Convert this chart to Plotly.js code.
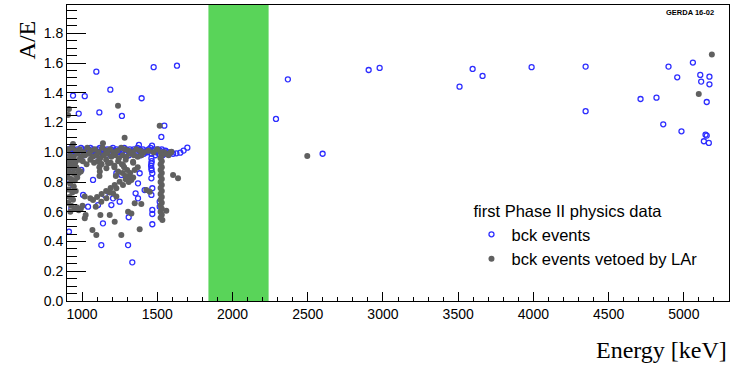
<!DOCTYPE html>
<html>
<head>
<meta charset="utf-8">
<script src="https://cdn.plot.ly/plotly-3.0.1.min.js"></script>
<style>html,body{margin:0;padding:0;background:#fff;}#plot{width:733px;height:367px;}</style>
</head>
<body>
<div id="plot"></div>
<script>
// bck events (open blue circles): energy [keV] and A/E
const bckEnergy = [
  // outliers, low-energy region
  1095,1476,1631,940,1018,1188,1396,978,1115,1265,1547,1527,1378,1465,1700,1675,1653,1627,
  // high-energy region
  2289,2368,2599,2905,2978,3509,3596,3662,3988,4347,4347,4712,4818,4863,4898,4956,4984,5060,5109,5115,5133,5144,5152,5152,5166,5170,5170,
  // below the band
  995,1073,913,940,929,913,1007,1040,1139,1128,1306,1334,1310,1250,1206,1151,1195,1106,1372,1372,1383,1261,1228,
  1461,1461,1467,1461,1467,1461,1467,1467,1467,1516,1516,1416,1356,910,915,908,920,1461,1463,1459,1462,
  // band near 1.0, row A
  905,918,930,943,955,968,980,993,1005,1018,1030,1043,1055,1068,1080,1093,1105,1118,1130,1143,1155,1168,1180,1193,
  1205,1218,1230,1243,1255,1268,1280,1293,1305,1318,1330,1343,1355,1368,1380,1393,1405,1418,1430,1443,1455,1468,
  1480,1493,1505,1518,1530,1543,1555,1568,1580,1593,1605,
  // band near 1.0, row B
  912,937,962,987,1012,1037,1062,1087,1112,1137,1162,1187,1212,1237,1262,1287,1312,1337,1362,1387,1412,1437,1462,1487,1512,1537,1562
];
const bckAE = [
  1.542,1.572,1.582,1.381,1.377,1.421,1.363,1.26,1.268,1.244,1.179,1.103,1.049,1.044,1.031,1.011,0.997,0.993,
  1.224,1.49,0.99,1.553,1.567,1.441,1.56,1.513,1.572,1.576,1.276,1.358,1.367,1.188,1.576,1.504,1.141,1.603,1.52,1.475,1.074,1.118,1.112,1.338,1.063,1.508,1.457,
  0.881,0.814,0.814,0.758,0.623,0.466,0.713,0.634,0.522,0.376,0.376,0.26,0.563,0.668,0.69,0.713,0.645,0.645,0.69,0.791,0.859,0.847,0.859,
  0.926,0.892,0.859,0.825,0.758,0.713,0.612,0.585,0.516,0.634,0.668,0.746,0.724,0.97,0.93,0.90,0.87,0.96,0.94,0.91,0.88,
  1.02,1.01,1.03,1.02,1.00,1.02,1.01,1.03,1.02,1.00,1.02,1.01,1.03,1.02,1.00,1.01,1.02,1.03,1.01,1.02,1.00,1.02,1.01,1.02,
  1.03,1.01,1.02,1.00,1.02,1.01,1.03,1.02,1.01,1.02,1.00,1.02,1.01,1.03,1.02,1.01,1.02,1.00,1.01,1.02,1.03,1.01,
  1.02,1.00,1.02,1.01,1.02,1.00,1.01,1.00,0.99,1.00,0.99,
  0.99,0.98,1.00,0.99,0.98,1.00,0.99,0.98,1.00,0.99,0.98,1.00,0.99,0.98,1.00,0.99,0.98,0.99,1.00,0.98,0.99,1.00,0.99,0.98,0.99,0.98,0.99
];

// bck events vetoed by LAr (filled grey circles)
const vetoEnergy = [
  // outliers
  913,907,1239,1516,1283,940,1139,2497,5186,5099,
  // band row 1
  910,935,960,985,1010,1035,1060,1085,1110,1135,1160,1185,1210,1235,1260,1285,1310,1335,1360,1385,1410,
  // band row 2
  920,945,970,995,1020,1045,1070,1095,1120,1145,1170,1195,1220,1245,1270,1295,1320,1345,1370,1395,
  // band row 3
  910,930,955,980,1005,1030,1055,1080,1105,1130,1160,1190,1215,1240,1265,1290,1340,
  // near 1.0 at higher energy
  1440,1475,1500,1545,1560,1590,1575,1594,
  // column near 1527 keV
  1522,1530,1522,1530,1522,1530,1522,1530,1522,1530,1522,1530,1522,1530,1522,1530,1522,1530,1522,1530,1522,1530,1522,
  // column near 1117 keV
  1117,1119,1115,1118,1116,
  // left cluster
  905,918,932,948,962,975,912,940,958,978,992,908,928,952,968,920,945,910,935,958,915,940,908,928,950,965,978,992,1003,922,
  // scattered
  1018,1024,1069,1095,1261,1383,1306,1328,1217,1122,1073,1055,1091,1018,1162,1184,1206,1228,1217,1290,1317,1328,
  1350,1394,1427,1450,1605,1638,1560,1534,1173,1162,1272,1339,1250,1272,1228,1128,1184,
  1100,1130,1160,1190,1280,1300,1320,1290,1340,1310,1350,1270,1215,1240,1225,1370
];
const vetoAE = [
  1.291,1.251,1.313,1.179,1.098,1.056,1.06,0.975,1.657,1.392,
  1.02,1.03,1.01,1.02,1.00,1.03,1.01,1.02,1.00,1.03,1.01,1.02,1.00,1.01,1.03,1.02,1.01,1.00,1.02,1.01,1.00,
  0.98,0.97,0.99,0.97,0.98,0.99,0.97,0.98,0.96,0.98,0.99,0.97,0.98,0.96,0.98,0.97,0.99,0.98,0.97,0.98,
  0.95,0.94,0.93,0.95,0.94,0.92,0.95,0.93,0.94,0.92,0.95,0.93,0.91,0.94,0.92,0.95,0.93,
  1.01,1.00,1.02,1.00,0.99,1.00,0.98,1.004,
  1.00,0.98,0.96,0.94,0.92,0.90,0.88,0.86,0.84,0.82,0.80,0.78,0.76,0.74,0.72,0.70,0.68,0.66,0.64,0.62,0.60,0.58,0.56,
  0.96,0.93,0.90,0.87,0.84,
  0.92,0.90,0.91,0.89,0.90,0.88,0.87,0.86,0.85,0.86,0.87,0.83,0.82,0.81,0.83,0.79,0.77,0.75,0.73,0.74,0.70,0.68,0.66,0.64,0.62,0.63,0.61,0.62,0.64,0.60,
  0.556,0.578,0.477,0.444,0.444,0.482,0.60,0.589,0.533,0.578,0.679,0.69,0.634,0.702,0.69,0.729,0.724,0.758,0.78,0.818,0.836,0.814,
  0.657,0.652,0.746,0.735,0.847,0.825,0.607,0.545,0.926,0.892,0.915,0.937,0.802,0.78,0.702,0.668,0.578,
  0.70,0.72,0.74,0.76,0.90,0.88,0.86,0.84,0.83,0.80,0.88,0.86,0.90,0.87,0.84,0.90
];

// Q_bb window [keV]
const blindLow = 1840, blindHigh = 2240;

const traces = [
  {
    x: bckEnergy, y: bckAE, type: 'scatter', mode: 'markers',
    name: 'bck events',
    marker: {symbol: 'circle-open', size: 5, color: 'rgb(45,45,255)', line: {width: 1.3, color: 'rgb(45,45,255)'}}
  },
  {
    x: vetoEnergy, y: vetoAE, type: 'scatter', mode: 'markers',
    name: 'bck events vetoed by LAr',
    marker: {symbol: 'circle', size: 6, color: 'rgb(96,96,96)'}
  }
];

const layout = {
  width: 733, height: 367,
  margin: {l: 67, r: 4, t: 5, b: 66},
  paper_bgcolor: '#fff', plot_bgcolor: '#fff',
  font: {family: 'Liberation Sans, Arial, sans-serif', size: 14, color: '#000'},
  showlegend: true,
  legend: {
    x: 0.611, y: 0.356, xanchor: 'left', yanchor: 'top',
    bgcolor: 'rgba(0,0,0,0)',
    title: {text: 'first Phase II physics data', font: {size: 16.5}},
    font: {size: 16.5}
  },
  xaxis: {
    range: [900, 5300], dtick: 500, tick0: 1000,
    ticks: 'inside', ticklen: 9, tickcolor: '#000', tickwidth: 1,
    minor: {dtick: 100, tick0: 1000, ticks: 'inside', ticklen: 4.5, tickcolor: '#000', tickwidth: 1},
    showgrid: false, zeroline: false, showline: true, linecolor: '#000', linewidth: 1, mirror: true,
    tickfont: {size: 14}
  },
  yaxis: {
    range: [0, 1.99], dtick: 0.2, tick0: 0, tickformat: '.1f',
    ticks: 'inside', ticklen: 19, tickcolor: '#000', tickwidth: 1,
    minor: {dtick: 0.05, ticks: 'inside', ticklen: 9.5, tickcolor: '#000', tickwidth: 1},
    showgrid: false, zeroline: false, showline: true, linecolor: '#000', linewidth: 1, mirror: true,
    tickfont: {size: 14}
  },
  shapes: [
    {type: 'rect', xref: 'x', yref: 'paper', x0: blindLow, x1: blindHigh, y0: 0, y1: 1,
     fillcolor: 'rgb(89,212,89)', line: {width: 0}, layer: 'below'}
  ],
  annotations: [
    {text: 'A/E', xref: 'paper', yref: 'paper', x: -0.061, y: 0.955, xanchor: 'center', yanchor: 'top',
     textangle: -90, showarrow: false, font: {family: 'Liberation Serif, Times New Roman, serif', size: 24, color: '#000'}},
    {text: 'Energy [keV]', xref: 'paper', yref: 'paper', x: 1, y: -0.165, xanchor: 'right', yanchor: 'middle',
     showarrow: false, font: {family: 'Liberation Serif, Times New Roman, serif', size: 24, color: '#000'}},
    {text: 'GERDA 16-02', xref: 'paper', yref: 'paper', x: 0.9415, y: 0.976, xanchor: 'center', yanchor: 'middle',
     showarrow: false, font: {family: 'Liberation Sans, Arial, sans-serif', size: 7.5, weight: 'bold', color: '#000'}}
  ]
};

Plotly.newPlot('plot', traces, layout, {displayModeBar: false, staticPlot: true});
</script>
</body>
</html>
